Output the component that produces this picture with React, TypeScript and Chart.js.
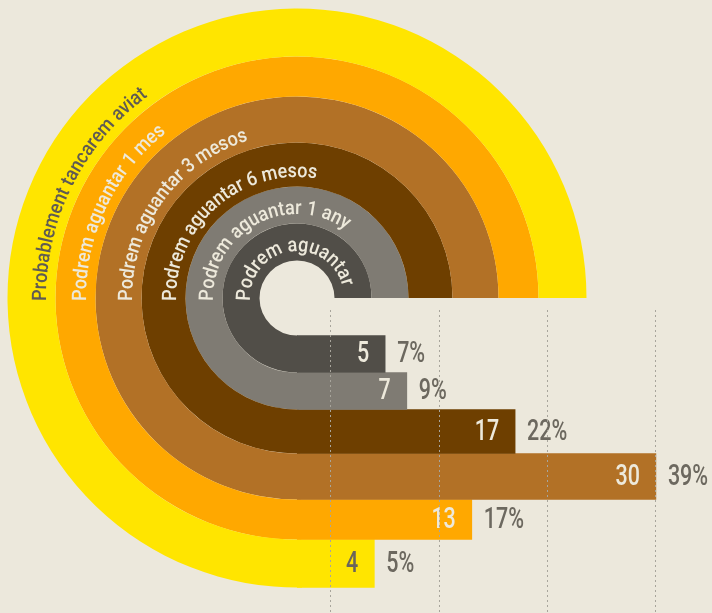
import React, { useEffect, useRef } from "react";
import { Chart, registerables } from "chart.js";

Chart.register(...registerables);

// ---- data (inner ring -> outer ring) ----
const CATEGORIES = [
  "Podrem aguantar",
  "Podrem aguantar 1 any",
  "Podrem aguantar 6 mesos",
  "Podrem aguantar 3 mesos",
  "Podrem aguantar 1 mes",
  "Probablement tancarem aviat",
];
const COUNTS = [5, 7, 17, 30, 13, 4];
const PERCENT_LABELS = ["7%", "9%", "22%", "39%", "17%", "5%"];
const GRID_TICKS = [0, 10, 20, 30];

// ---- style ----
const COLORS = ["#514E48", "#7F7B73", "#6E3F00", "#B27126", "#FFA800", "#FFE500"];
const CREAM = "#EDE9DB";
const DARK_TEXT = "#5F5B53";
const LABEL_COLORS = [CREAM, CREAM, CREAM, CREAM, CREAM, DARK_TEXT];
const COUNT_COLORS = [CREAM, CREAM, CREAM, CREAM, CREAM, "#69655C"];
const PCT_COLOR = "#6C685F";
const BG = "#ECE8DC";
const RING_WIDTHS = [37, 37, 44, 46, 40, 48];
const HOLE_R = 37.5;
const CX = 297;
const CY = 298;
const W = 712;
const H = 613;
const BAR_TOP = 310;
const ZERO_X = 331;
const PX_PER_UNIT = 10.83;
const X_MIN = -(ZERO_X - CX) / PX_PER_UNIT;
const X_MAX = X_MIN + (W - CX) / PX_PER_UNIT;
const OUTER_R = HOLE_R + RING_WIDTHS.reduce((a, b) => a + b, 0);
const FONT = "Roboto, 'DejaVu Sans', sans-serif";

function drawScaled(ctx: CanvasRenderingContext2D, text: string, x: number, y: number, sx: number, align: CanvasTextAlign) {
  ctx.save();
  ctx.translate(x, y);
  ctx.scale(sx, 1);
  ctx.textAlign = align;
  ctx.fillText(text, 0, 0);
  ctx.restore();
}

function drawArcText(ctx: CanvasRenderingContext2D, text: string, cx: number, cy: number, r: number, startAngle: number, sx: number) {
  for (let i = 0; i < text.length; i++) {
    const ch = text[i];
    const before = ctx.measureText(text.slice(0, i)).width * sx;
    const w = ctx.measureText(ch).width * sx;
    const a = startAngle + (before + w / 2) / r;
    ctx.save();
    ctx.translate(cx + r * Math.cos(a), cy + r * Math.sin(a));
    ctx.rotate(a + Math.PI / 2);
    ctx.scale(sx, 1);
    ctx.textAlign = "center";
    ctx.textBaseline = "alphabetic";
    ctx.fillText(ch, 0, 0);
    ctx.restore();
  }
}

const ringLabelPlugin = {
  id: "ringLabels",
  afterDatasetsDraw(chart: any) {
    const ctx: CanvasRenderingContext2D = chart.ctx;
    ctx.save();
    ctx.font = `500 20px ${FONT}`;
    chart.data.datasets.forEach((ds: any, j: number) => {
      const meta = chart.getDatasetMeta(j);
      const arc: any = meta.data[0];
      if (!arc) return;
      const k = ds.ringIndex;
      const r = arc.innerRadius + 9.5;
      ctx.fillStyle = LABEL_COLORS[k];
      drawArcText(ctx, CATEGORIES[k], arc.x, arc.y, r, Math.PI - 3 / r, 0.9);
    });
    ctx.restore();
  },
};

const barLabelPlugin = {
  id: "barLabels",
  afterDatasetsDraw(chart: any) {
    const ctx: CanvasRenderingContext2D = chart.ctx;
    ctx.save();
    ctx.font = `500 29px ${FONT}`;
    ctx.textBaseline = "middle";
    chart.data.datasets.forEach((ds: any, i: number) => {
      const el: any = chart.getDatasetMeta(i).data[0];
      if (!el) return;
      ctx.fillStyle = COUNT_COLORS[i];
      drawScaled(ctx, String(COUNTS[i]), el.x - 16, el.y + 1, 0.74, "right");
      ctx.fillStyle = PCT_COLOR;
      drawScaled(ctx, PERCENT_LABELS[i], el.x + 12, el.y + 1, 0.74, "left");
    });
    ctx.restore();
  },
};

export default function App() {
  const ringRef = useRef<HTMLCanvasElement>(null);
  const barRef = useRef<HTMLCanvasElement>(null);

  useEffect(() => {
    const ringDatasets = CATEGORIES.map((c, k) => ({
      label: c,
      ringIndex: k,
      data: [1],
      backgroundColor: COLORS[k],
      borderWidth: 0,
      weight: RING_WIDTHS[k],
    })).reverse();

    const ring = new Chart(ringRef.current as HTMLCanvasElement, {
      type: "doughnut",
      data: { labels: ["ring"], datasets: ringDatasets as any },
      options: {
        responsive: false,
        animation: false,
        events: [],
        rotation: 179,
        circumference: 271,
        radius: OUTER_R,
        cutout: (HOLE_R / OUTER_R) * 100 + "%",
        layout: { padding: 0 },
        plugins: { legend: { display: false }, tooltip: { enabled: false } },
      } as any,
      plugins: [ringLabelPlugin],
    });

    // bar centres follow the ring radii (in px below the bar area top);
    // each bar starts where its ring ends (left edge of the bar area)
    let acc = HOLE_R;
    const barDatasets = CATEGORIES.map((c, i) => {
      const mid = acc + RING_WIDTHS[i] / 2;
      acc += RING_WIDTHS[i];
      return {
        label: c,
        data: [{ x: [X_MIN, COUNTS[i]], y: mid + CY - BAR_TOP }],
        backgroundColor: COLORS[i],
        borderWidth: 0,
        barThickness: RING_WIDTHS[i],
        maxBarThickness: RING_WIDTHS[i],
        grouped: false,
      };
    });

    const bars = new Chart(barRef.current as HTMLCanvasElement, {
      type: "bar",
      data: { datasets: barDatasets as any },
      options: {
        indexAxis: "y",
        responsive: false,
        animation: false,
        events: [],
        layout: { padding: 0 },
        plugins: { legend: { display: false }, tooltip: { enabled: false } },
        scales: {
          x: {
            type: "linear",
            min: X_MIN,
            max: X_MAX,
            offset: false,
            afterBuildTicks: (axis: any) => {
              axis.ticks = GRID_TICKS.map((v) => ({ value: v }));
            },
            ticks: { display: false },
            grid: { color: "#A8A59C", lineWidth: 1, drawTicks: false, z: 1, offset: false },
            border: { display: false, dash: [2, 3] },
          },
          y: {
            type: "linear",
            reverse: true,
            min: 0,
            max: H - BAR_TOP,
            offset: false,
            grid: { offset: false },
            display: false,
          },
        },
      } as any,
      plugins: [barLabelPlugin],
    });

    return () => {
      ring.destroy();
      bars.destroy();
    };
  }, []);

  return (
    <div style={{ position: "fixed", left: 0, top: 0, width: W, height: H, background: BG, overflow: "hidden" }}>
      <canvas
        ref={ringRef}
        width={600}
        height={600}
        style={{ position: "absolute", left: CX - 300, top: CY - 300, width: 600, height: 600 }}
      />
      <canvas
        ref={barRef}
        width={W - CX}
        height={H - BAR_TOP}
        style={{ position: "absolute", left: CX, top: BAR_TOP, width: W - CX, height: H - BAR_TOP }}
      />
    </div>
  );
}
